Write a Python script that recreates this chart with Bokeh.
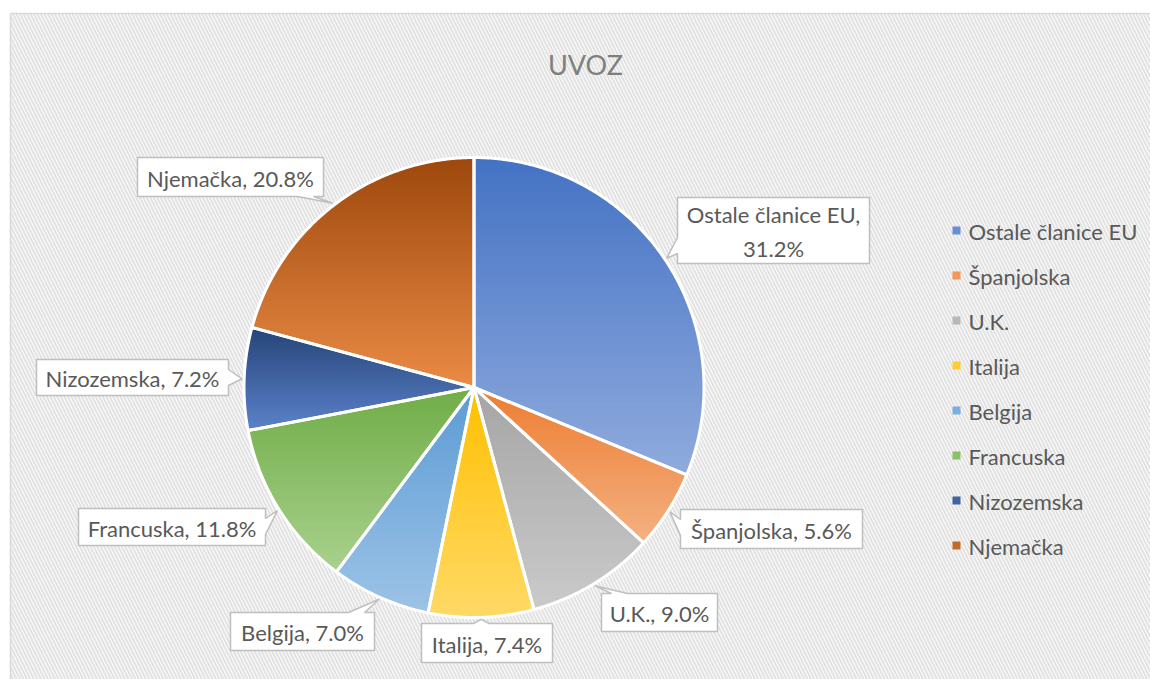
import numpy as np
from bokeh.plotting import figure
from bokeh.models import Range1d
from bokeh.embed import file_html
from bokeh.resources import INLINE
from bokeh.core.properties import value

# ---------------- data ----------------
title_text = "UVOZ"
categories = ["Ostale članice EU", "Španjolska", "U.K.", "Italija",
              "Belgija", "Francuska", "Nizozemska", "Njemačka"]
shares = [31.2, 5.6, 9.0, 7.4, 7.0, 11.8, 7.2, 20.8]

# gradient colours (top -> bottom of each slice)
top_colors = ["#4472C4", "#ED7D31", "#A5A5A5", "#FFC000",
              "#5B9BD5", "#70AD47", "#264478", "#9E480E"]
bottom_colors = ["#90ABDD", "#F4B183", "#CACACA", "#FFD966",
                 "#9DC3E6", "#A9D18E", "#5B82CA", "#EA8B45"]

# ---------------- layout ----------------
W, H = 1150, 679
CX, CY, R = 473.5, 387.0, 230.0
# callout boxes: left, top, right, bottom, pointer edge, wrap
label_boxes = [
    (677, 197, 869, 263, "l", True),
    (680, 509, 862, 548, "l", False),
    (601, 593, 717, 631, "t", False),
    (421, 623, 552, 662, "t", False),
    (230, 612, 374, 650, "t", False),
    (78, 508, 265, 545, "r", False),
    (36, 359, 228, 395, "r", False),
    (137, 157, 323, 196, "b", False),
]
LEG_X, LEG_Y0, LEG_DY = 956, 230, 45
FONT = "Lato"
TXT = "#595959"


def hex2rgb(h):
    h = h.lstrip("#")
    return np.array([int(h[i:i + 2], 16) for i in (0, 2, 4)], dtype=float)


def mix(c0, c1, t):
    a, b = hex2rgb(c0), hex2rgb(c1)
    c = a + (b - a) * t
    return "#%02x%02x%02x" % tuple(int(round(v)) for v in c)


def clip_y(pts, yb, keep_greater):
    out = []
    n = len(pts)
    for i in range(n):
        p, q = pts[i], pts[(i + 1) % n]
        pin = p[1] >= yb if keep_greater else p[1] <= yb
        qin = q[1] >= yb if keep_greater else q[1] <= yb
        if pin:
            out.append(p)
        if pin != qin:
            t = (yb - p[1]) / (q[1] - p[1])
            out.append((p[0] + t * (q[0] - p[0]), yb))
    return out


p = figure(width=W, height=H, x_range=Range1d(0, W), y_range=Range1d(H, 0),
           x_axis_type=None, y_axis_type=None, toolbar_location=None,
           output_backend="svg", min_border=0)
p.min_border_left = p.min_border_right = p.min_border_top = p.min_border_bottom = 0
p.grid.visible = False
p.outline_line_color = None
p.background_fill_color = "white"
p.border_fill_color = "white"

# chart area with hatched pattern
p.quad(left=[10], right=[W + 2], top=[13], bottom=[H + 2], fill_color="white",
       hatch_pattern="\\", hatch_color="#E3E3E3", hatch_weight=2.2, hatch_scale=7,
       line_color="#D9D9D9", line_width=1.5)

# title
p.text(x=[585], y=[64], text=[title_text], text_font=value(FONT),
       text_font_size="27px", text_color="#7F7F7F", text_align="center",
       text_baseline="middle")

# pie slices with vertical gradient (bands)
cum = np.concatenate([[0], np.cumsum(shares)]) / np.sum(shares)
band_xs, band_ys, band_cols = [], [], []
out_xs, out_ys = [], []
mids = []
NB = 48
for i in range(len(shares)):
    a0, a1 = cum[i] * 2 * np.pi, cum[i + 1] * 2 * np.pi
    mids.append((a0 + a1) / 2)
    th = np.linspace(a0, a1, max(6, int(np.degrees(a1 - a0) * 1.5)))
    poly = [(CX, CY)] + [(CX + R * np.sin(t), CY - R * np.cos(t)) for t in th]
    ys = [q[1] for q in poly]
    ymin, ymax = min(ys), max(ys)
    edges = np.linspace(ymin, ymax, NB + 1)
    for k in range(NB):
        y0 = edges[k]
        y1 = min(edges[k + 1] + 0.9, ymax)
        sub = clip_y(clip_y(poly, y0, True), y1, False)
        if len(sub) < 3:
            continue
        band_xs.append([q[0] for q in sub])
        band_ys.append([q[1] for q in sub])
        band_cols.append(mix(top_colors[i], bottom_colors[i], (k + 0.5) / NB))
    out_xs.append([q[0] for q in poly])
    out_ys.append([q[1] for q in poly])

p.patches(xs=band_xs, ys=band_ys, fill_color=band_cols, line_color=None)
p.patches(xs=out_xs, ys=out_ys, fill_color=None, line_color="white",
          line_width=3, line_join="round")

# callouts
cx_list, cy_list, cols = [], [], []
call_xs, call_ys, texts, tx, ty = [], [], [], [], []
HW, M = 8, 10
for i, (l, t, r, b, edge, wrap) in enumerate(label_boxes):
    a = mids[i]
    tipx, tipy = CX + (R + 2) * np.sin(a), CY - (R + 2) * np.cos(a)
    if edge == "l":
        c = float(np.clip(tipy, t + M + HW, b - M - HW))
        pts = [(l, t), (r, t), (r, b), (l, b), (l, c + HW), (tipx, tipy), (l, c - HW)]
    elif edge == "r":
        c = float(np.clip(tipy, t + M + HW, b - M - HW))
        pts = [(l, t), (r, t), (r, c - HW), (tipx, tipy), (r, c + HW), (r, b), (l, b)]
    elif edge == "t":
        c = float(np.clip(tipx, l + M + HW, r - M - HW))
        pts = [(l, t), (c - HW, t), (tipx, tipy), (c + HW, t), (r, t), (r, b), (l, b)]
    else:
        c = float(np.clip(tipx, l + M + HW, r - M - HW))
        pts = [(l, t), (r, t), (r, b), (c + HW, b), (tipx, tipy), (c - HW, b), (l, b)]
    call_xs.append([q[0] for q in pts])
    call_ys.append([q[1] for q in pts])
    sep = ",\n" if wrap else ", "
    texts.append(f"{categories[i]}{sep}{shares[i]:.1f}%")
    tx.append((l + r) / 2)
    ty.append((t + b) / 2 + 1)

p.patches(xs=call_xs, ys=call_ys, fill_color="white", line_color="#BFBFBF",
          line_width=1.5)
p.text(x=tx, y=ty, text=texts, text_font=value(FONT), text_font_size="22px",
       text_color=TXT, text_align="center", text_baseline="middle",
       text_line_height=1.25)

# legend
leg_y = [LEG_Y0 + k * LEG_DY for k in range(len(categories))]
leg_cols = [mix(top_colors[k], bottom_colors[k], 0.5) for k in range(len(categories))]
p.scatter(x=[LEG_X] * len(categories), y=leg_y, marker="square", size=8,
          fill_color=leg_cols, line_color=None)
p.text(x=[LEG_X + 12] * len(categories), y=[v + 1 for v in leg_y], text=categories,
       text_font=value(FONT), text_font_size="22px", text_color=TXT,
       text_align="left", text_baseline="middle")

open("out.html", "w").write(file_html(p, INLINE))
